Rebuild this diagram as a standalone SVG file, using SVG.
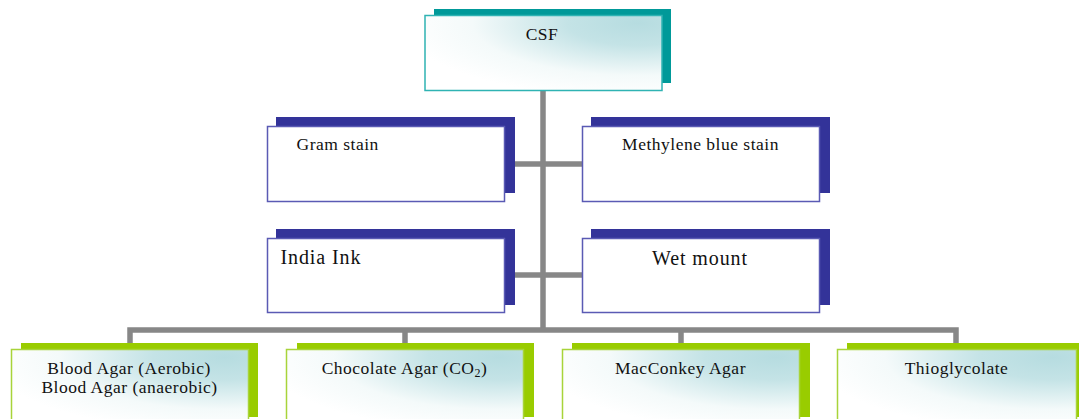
<svg xmlns="http://www.w3.org/2000/svg" width="1079" height="419" viewBox="0 0 1079 419">
  <defs>
    <radialGradient id="tint" cx="0.9" cy="0.1" r="1" fx="0.9" fy="0.1">
      <stop offset="0" stop-color="#b6dce0"/>
      <stop offset="0.3" stop-color="#c4e3e6"/>
      <stop offset="0.7" stop-color="#f4fafa"/>
      <stop offset="1" stop-color="#ffffff"/>
    </radialGradient>
    <style>
      .lbl { font-family: "Liberation Serif", "Times New Roman", serif; font-size: 17.5px; letter-spacing: 0.5px; fill: #111; }
      .big { font-size: 20px; letter-spacing: 0.9px; }
      .mid { text-anchor: middle; }
      .conn { fill: none; stroke: #878787; stroke-width: 5.5; stroke-linejoin: miter; stroke-linecap: butt; }
      .sh-teal { fill: #009999; }
      .sh-blue { fill: #333399; }
      .sh-green { fill: #99cc00; }
      .fr-teal { fill: url(#tint); stroke: #2fb3b3; stroke-width: 1.5; }
      .fr-blue { fill: #ffffff; stroke: #5a5ab4; stroke-width: 1.5; }
      .fr-green { fill: url(#tint); stroke: #a8d43a; stroke-width: 1.5; }
    </style>
  </defs>

  <!-- connectors -->
  <g id="connectors">
    <path class="conn" d="M543,90 V330"/>
    <path class="conn" d="M504,164 H582"/>
    <path class="conn" d="M504,275 H582"/>
    <path class="conn" d="M130,344 V330 H956 V344"/>
    <path class="conn" d="M405,330 V344"/>
    <path class="conn" d="M681,330 V344"/>
  </g>

  <!-- root -->
  <g id="csf">
    <rect class="sh-teal" x="434" y="9" width="237" height="74"/>
    <rect class="fr-teal" x="425" y="15.5" width="237" height="75"/>
    <text class="lbl mid" x="542" y="39.5">CSF</text>
  </g>

  <!-- stains -->
  <g id="gram-stain">
    <rect class="sh-blue" x="276" y="117" width="239" height="76"/>
    <rect class="fr-blue" x="267.5" y="126.5" width="237" height="75"/>
    <text class="lbl" x="296.5" y="150">Gram stain</text>
  </g>

  <g id="methylene-blue-stain">
    <rect class="sh-blue" x="591" y="117" width="239" height="76"/>
    <rect class="fr-blue" x="582.5" y="126.5" width="237" height="75"/>
    <text class="lbl mid" x="700.5" y="150">Methylene blue stain</text>
  </g>

  <g id="india-ink">
    <rect class="sh-blue" x="276" y="229" width="239" height="76"/>
    <rect class="fr-blue" x="267.5" y="238.5" width="237" height="74"/>
    <text class="lbl big" x="280.5" y="264">India Ink</text>
  </g>

  <g id="wet-mount">
    <rect class="sh-blue" x="591" y="229" width="239" height="76"/>
    <rect class="fr-blue" x="582.5" y="238.5" width="237" height="74"/>
    <text class="lbl big mid" x="700" y="265">Wet mount</text>
  </g>

  <!-- culture media -->
  <g id="blood-agar">
    <rect class="sh-green" x="21" y="343" width="237" height="74"/>
    <rect class="fr-green" x="11.5" y="349.5" width="237" height="75"/>
    <text class="lbl mid" x="129" y="373.5">Blood Agar (Aerobic)</text>
    <text class="lbl mid" x="129.5" y="393">Blood Agar (anaerobic)</text>
  </g>

  <g id="chocolate-agar">
    <rect class="sh-green" x="297" y="343" width="237" height="74"/>
    <rect class="fr-green" x="286.5" y="349.5" width="237" height="75"/>
    <text class="lbl mid" x="404.5" y="373.5">Chocolate Agar (CO<tspan font-size="12" dy="3">2</tspan><tspan dy="-3">)</tspan></text>
  </g>

  <g id="macconkey-agar">
    <rect class="sh-green" x="572" y="343" width="238" height="74"/>
    <rect class="fr-green" x="562.5" y="349.5" width="237" height="75"/>
    <text class="lbl mid" x="680.5" y="373.5">MacConkey Agar</text>
  </g>

  <g id="thioglycolate">
    <rect class="sh-green" x="847" y="343" width="232" height="74"/>
    <rect class="fr-green" x="837.5" y="349.5" width="239" height="75"/>
    <text class="lbl mid" x="956.5" y="373.5">Thioglycolate</text>
  </g>
</svg>
